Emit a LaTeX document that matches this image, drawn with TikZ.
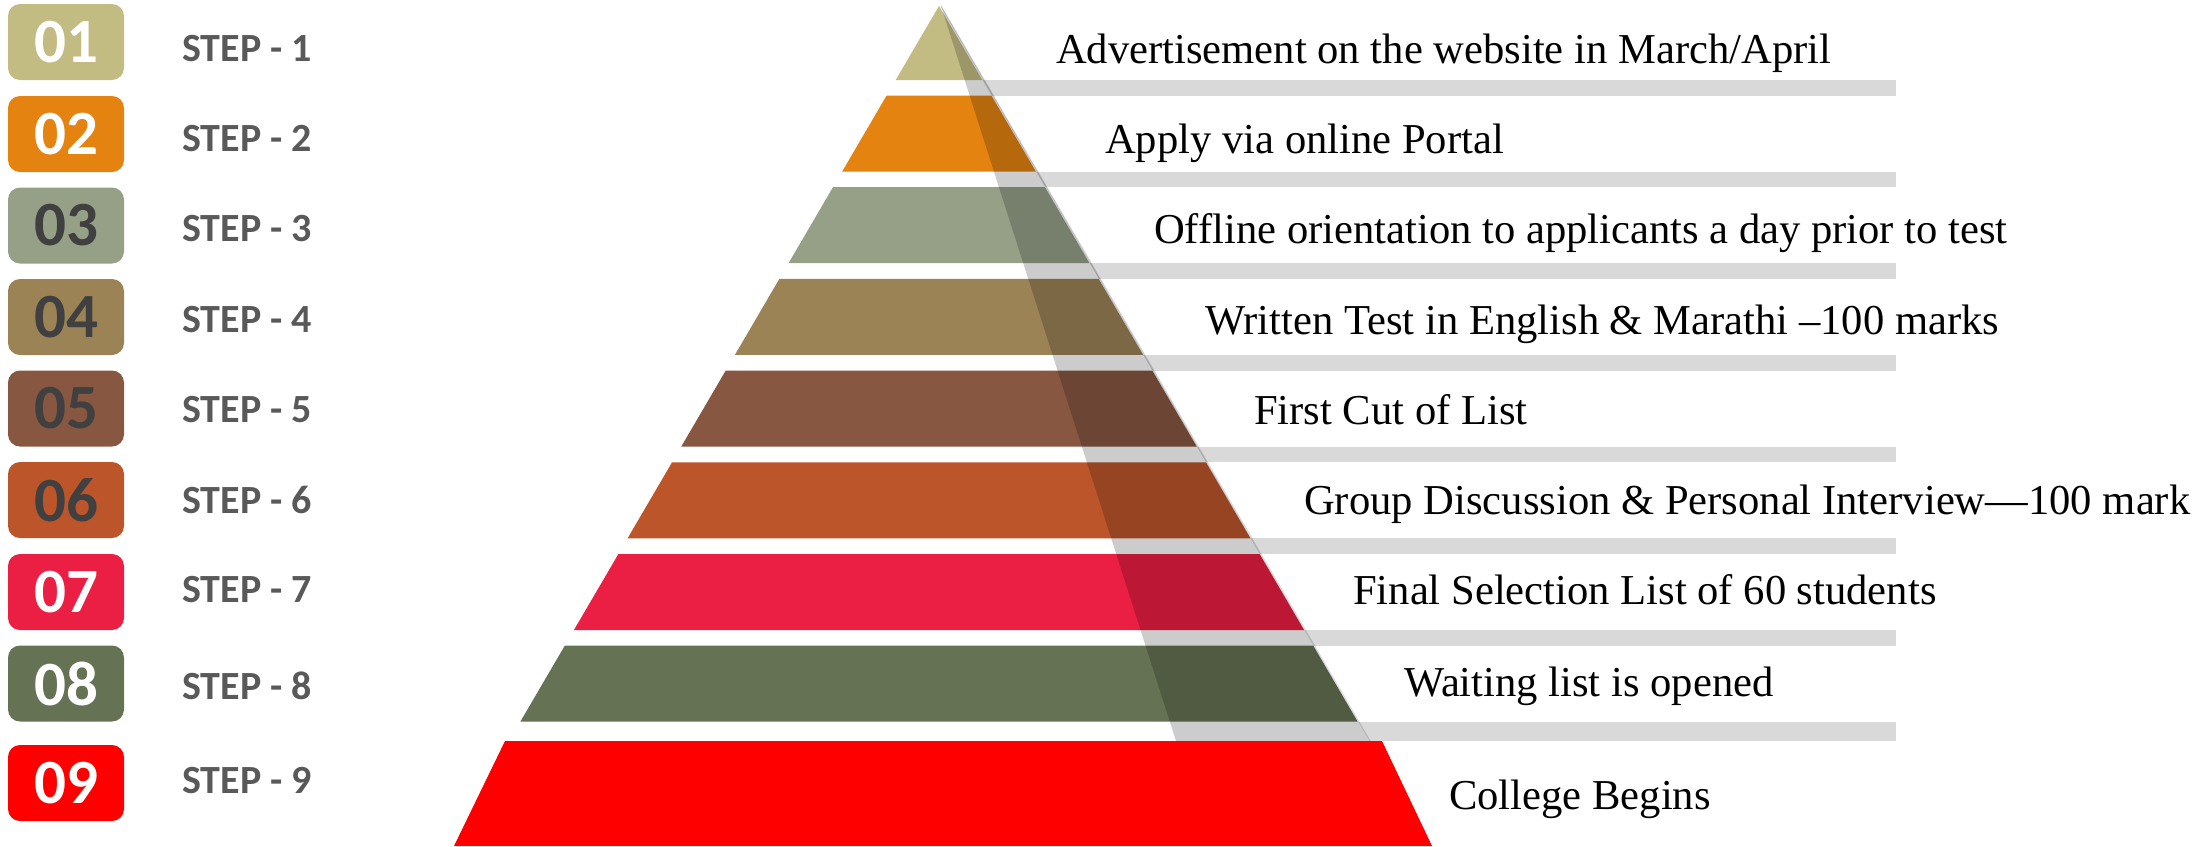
\documentclass[tikz,border=0pt]{standalone}
\usepackage{fontspec}
\setmainfont{Liberation Serif}
\newfontfamily\calib{Carlito}
\definecolor{c1}{HTML}{C3BC82}
\definecolor{c2}{HTML}{E4830F}
\definecolor{c3}{HTML}{95A087}
\definecolor{c4}{HTML}{9B8356}
\definecolor{c5}{HTML}{875741}
\definecolor{c6}{HTML}{BC562A}
\definecolor{c7}{HTML}{EB1F44}
\definecolor{c8}{HTML}{657253}
\definecolor{c9}{HTML}{FF0000}
\definecolor{barcol}{HTML}{D9D9D9}
\definecolor{steptext}{HTML}{595959}
\definecolor{numdark}{HTML}{404040}
\begin{document}
\begin{tikzpicture}[x=1pt,y=-1pt,
  numbox/.style={rounded corners=12pt, minimum width=116pt, minimum height=76pt, inner sep=0pt,
    font=\calib\bfseries\fontsize{63}{63}\selectfont},
  steplab/.style={anchor=west, inner sep=0pt, text=steptext, font=\calib\bfseries\fontsize{40}{40}\selectfont},
  desc/.style={anchor=base west, inner sep=0pt, text=black, font=\fontsize{42.6}{43}\selectfont},
  gapbar/.style={fill=barcol, draw=none},
  tier/.style={draw=none}]
\useasboundingbox (0,0) rectangle (2202,846);
% gray bars in the gaps
\foreach \k in {1,...,8}{
  \pgfmathsetmacro{\btop}{\k==1 ? 80 : 171.5+(\k-2)*91.7}
  \pgfmathsetmacro{\bbot}{\k==8 ? 741 : 95.5+(\k-1)*91.7}
  \fill[barcol] (939,\btop) rectangle (1896,\bbot);
}
% white pyramid body
\fill[white] (939,6) -- (1369,741) -- (509,741) -- cycle;
% tiers
\fill[c1] (939,6) -- ({939+0.585*74},80) -- ({939-0.585*74},80) -- cycle;
\foreach \k/\col in {2/c2,3/c3,4/c4,5/c5,6/c6,7/c7,8/c8}{
  \pgfmathsetmacro{\tt}{95.5+(\k-2)*91.7}
  \pgfmathsetmacro{\tb}{\tt+76}
  \pgfmathsetmacro{\wt}{0.585*(\tt-6)}
  \pgfmathsetmacro{\wb}{0.585*(\tb-6)}
  \fill[\col] ({939-\wt},\tt) -- ({939+\wt},\tt) -- ({939+\wb},\tb) -- ({939-\wb},\tb) -- cycle;
}
\fill[c9] (505,741) -- (1382,741) -- (1432,846) -- (454,846) -- cycle;
% shading overlay
\fill[black, opacity=0.2] (941,6) -- (1176,741) -- (1369,741) -- cycle;
\draw[black, opacity=0.15, line width=1.2pt] (941,6) -- (1370,741);
% number boxes
\node[numbox, fill=c1, text=white]   (b1) at (66,42)    {01};
\node[numbox, fill=c2, text=white]   (b2) at (66,134)   {02};
\node[numbox, fill=c3, text=numdark] (b3) at (66,225.5) {03};
\node[numbox, fill=c4, text=numdark] (b4) at (66,317)   {04};
\node[numbox, fill=c5, text=numdark] (b5) at (66,408.5) {05};
\node[numbox, fill=c6, text=numdark] (b6) at (66,500)   {06};
\node[numbox, fill=c7, text=white]   (b7) at (66,592)   {07};
\node[numbox, fill=c8, text=white]   (b8) at (66,683.5) {08};
\node[numbox, fill=c9, text=white]   (b9) at (66,783)   {09};
% step labels
\node[steplab] (s1) at (182,49)  {STEP - 1};
\node[steplab] (s2) at (182,139) {STEP - 2};
\node[steplab] (s3) at (182,229) {STEP - 3};
\node[steplab] (s4) at (182,320) {STEP - 4};
\node[steplab] (s5) at (182,410) {STEP - 5};
\node[steplab] (s6) at (182,500) {STEP - 6};
\node[steplab] (s7) at (182,590) {STEP - 7};
\node[steplab] (s8) at (182,686) {STEP - 8};
\node[steplab] (s9) at (182,781) {STEP - 9};
% descriptions
\node[desc] (d1) at (1056,63)  {Advertisement on the website in March/April};
\node[desc] (d2) at (1105,153) {Apply via online Portal};
\node[desc] (d3) at (1154,243) {Offline orientation to applicants a day prior to test};
\node[desc] (d4) at (1205,334) {Written Test in English \& Marathi –100 marks};
\node[desc] (d5) at (1254,424) {First Cut of List};
\node[desc] (d6) at (1304,514) {Group Discussion \& Personal Interview—100 mark};
\node[desc] (d7) at (1353,604) {Final Selection List of 60 students};
\node[desc] (d8) at (1404,696) {Waiting list is opened};
\node[desc] (d9) at (1449,809) {College Begins};
\end{tikzpicture}
\end{document}
